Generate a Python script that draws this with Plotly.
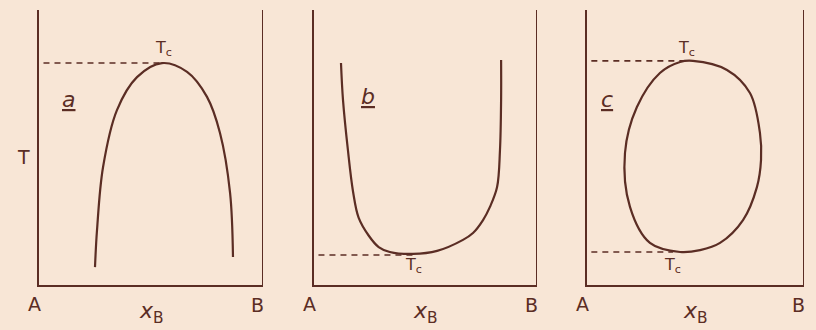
import plotly.graph_objects as go
from plotly.subplots import make_subplots

# ---- data (composition x_B from 0=A to 1=B, reduced temperature T from 0 to 1) ----
a_x = [0.25, 0.259, 0.286, 0.348, 0.4375, 0.549, 0.661, 0.75, 0.808, 0.853, 0.866]
a_T = [0.065, 0.20, 0.429, 0.636, 0.756, 0.807, 0.775, 0.684, 0.553, 0.335, 0.102]
a_tc = (0.549, 0.807)

b_x = [0.121, 0.13, 0.152, 0.175, 0.200, 0.245, 0.290, 0.340, 0.444, 0.552, 0.668,
       0.713, 0.758, 0.789, 0.821, 0.834, 0.839, 0.839]
b_T = [0.807, 0.673, 0.491, 0.340, 0.245, 0.180, 0.138, 0.120, 0.113, 0.124, 0.164,
       0.189, 0.236, 0.284, 0.356, 0.491, 0.673, 0.818]
b_tc = (0.444, 0.109)

c_x = [0.488, 0.645, 0.751, 0.797, 0.802, 0.783, 0.719, 0.613, 0.521, 0.429, 0.290,
       0.198, 0.175, 0.230, 0.336, 0.429, 0.488]
c_T = [0.815, 0.782, 0.698, 0.553, 0.455, 0.356, 0.236, 0.153, 0.127, 0.12, 0.153,
       0.284, 0.48, 0.647, 0.771, 0.811, 0.815]
c_tc_top = (0.46, 0.815)
c_tc_bot = (0.396, 0.12)

panel_labels = ["a", "b", "c"]
panel_label_pos = [(0.13, 0.673), (0.242, 0.684), (0.092, 0.673)]
end_labels = ["A", "B"]
axis_title = "<i>x</i><sub>B</sub>"

INK = "#5b2d24"
BG = "#f8e6d6"
FONT = "DejaVu Sans"

fig = make_subplots(rows=1, cols=3)
domains = [(39 / 816, 263 / 816), (314 / 816, 537 / 816), (587 / 816, 804 / 816)]
ydom = (1 - 285 / 330, 1 - 10 / 330)

curves = [(a_x, a_T), (b_x, b_T), (c_x, c_T)]
for i, (xs, ts) in enumerate(curves):
    fig.add_trace(go.Scatter(x=xs, y=ts, mode="lines",
                             line=dict(color=INK, width=2.2, shape="spline", smoothing=1.0),
                             showlegend=False, hoverinfo="skip"), row=1, col=i + 1)

# dashed lines to critical points
dashes = [(1, [a_tc]), (2, [b_tc]), (3, [c_tc_top, c_tc_bot])]
for col, pts in dashes:
    for (xc, tc) in pts:
        fig.add_trace(go.Scatter(x=[0.02, xc], y=[tc, tc], mode="lines",
                                 line=dict(color=INK, width=1.6, dash="6px,5px"),
                                 showlegend=False, hoverinfo="skip"), row=1, col=col)

for i in range(3):
    ax = "xaxis" if i == 0 else f"xaxis{i+1}"
    ay = "yaxis" if i == 0 else f"yaxis{i+1}"
    fig.layout[ax].update(domain=list(domains[i]), range=[0, 1], showline=True,
                          linecolor=INK, linewidth=2, showgrid=False, zeroline=False,
                          showticklabels=False, ticks="")
    fig.layout[ay].update(domain=list(ydom), range=[0, 1], showline=True,
                          linecolor=INK, linewidth=2, showgrid=False, zeroline=False,
                          showticklabels=False, ticks="")
    xr = "x" if i == 0 else f"x{i+1}"
    yr = "y" if i == 0 else f"y{i+1}"
    # right boundary (pure B)
    fig.add_shape(type="line", xref=xr, yref=yr, x0=1, x1=1, y0=0, y1=1.0,
                  line=dict(color=INK, width=2))
    # axis texts (anchored on the axis, shifted below it)
    fig.add_annotation(xref=xr, yref=yr, x=0, y=0, xshift=-5, yshift=-19, text=end_labels[0],
                       showarrow=False, font=dict(family=FONT, size=19, color=INK))
    fig.add_annotation(xref=xr, yref=yr, x=1, y=0, xshift=-6, yshift=-20, text=end_labels[1],
                       showarrow=False, font=dict(family=FONT, size=19, color=INK))
    fig.add_annotation(xref=xr, yref=yr, x=0.5, y=0, yshift=-27, text=axis_title,
                       showarrow=False, font=dict(family=FONT, size=22, color=INK))
    lx, ly = panel_label_pos[i]
    fig.add_annotation(xref=xr, yref=yr, x=lx, y=ly, text=f"<u><i>{panel_labels[i]}</i></u>",
                       showarrow=False, font=dict(family=FONT, size=22, color=INK))

tc_labels = [("x", "y", a_tc[0] + 0.005, 0.86), ("x2", "y2", b_tc[0], 0.07),
             ("x3", "y3", c_tc_top[0], 0.86), ("x3", "y3", c_tc_bot[0], 0.07)]
for xr, yr, xx, yy in tc_labels:
    fig.add_annotation(xref=xr, yref=yr, x=xx, y=yy, text="T<sub>c</sub>", showarrow=False,
                       font=dict(family=FONT, size=16, color=INK))

fig.add_annotation(xref="paper", yref="paper", x=15 / 816, y=1 - 157 / 330, text="T",
                   showarrow=False, font=dict(family=FONT, size=19, color=INK))

fig.update_layout(width=816, height=330, margin=dict(l=0, r=0, t=0, b=0),
                  paper_bgcolor=BG, plot_bgcolor=BG)

fig.write_html("out.html", config={"displayModeBar": False},
               post_script="document.body.style.margin='0';"
                           "document.body.style.background='#f8e6d6';")
